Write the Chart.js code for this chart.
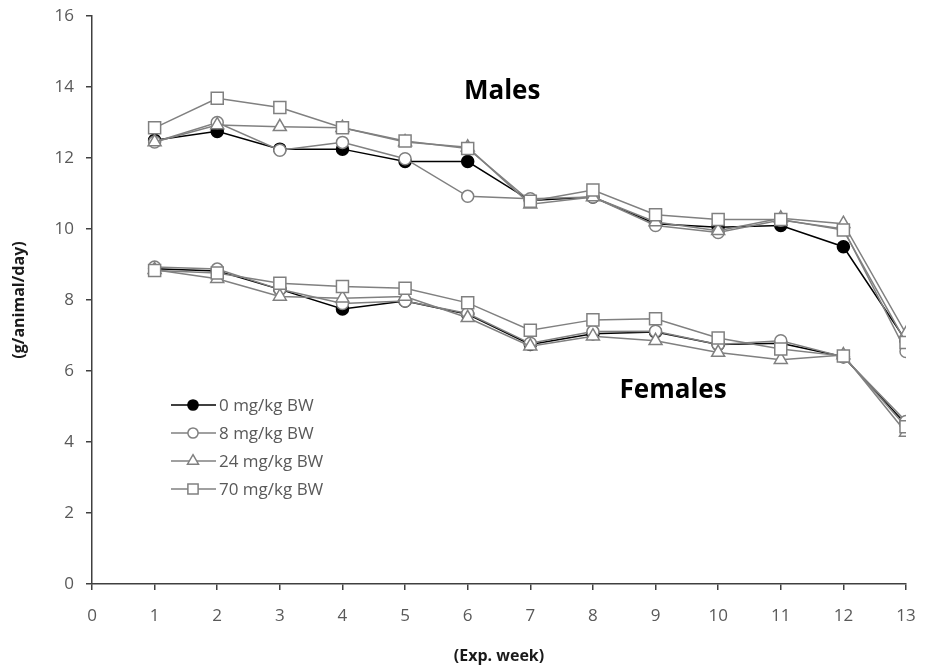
<!DOCTYPE html>
<html>
<head>
<meta charset="utf-8">
<script src="https://cdn.jsdelivr.net/npm/chart.js@4/dist/chart.umd.min.js"></script>
<style>
  html, body { margin: 0; padding: 0; background: #fff; }
  #wrap { width: 925px; height: 670px; }
</style>
</head>
<body>
<div id="wrap"><canvas id="chart"></canvas></div>
<script>
const weeks = [1, 2, 3, 4, 5, 6, 7, 8, 9, 10, 11, 12, 13];
const doses = ['0 mg/kg BW', '8 mg/kg BW', '24 mg/kg BW', '70 mg/kg BW'];

// males, g/animal/day
const males0  = [12.5, 12.75, 12.25, 12.25, 11.9, 11.9, 10.8, 10.9, 10.15, 10.05, 10.1, 9.5, 6.85];
const males8  = [12.45, 13.0, 12.22, 12.44, 11.98, 10.92, 10.85, 10.9, 10.1, 9.9, 10.25, 10.0, 6.55];
const males24 = [12.45, 12.93, 12.88, 12.85, 12.45, 12.3, 10.7, 10.9, 10.2, 9.95, 10.3, 10.15, 7.05];
const males70 = [12.85, 13.68, 13.42, 12.85, 12.48, 12.27, 10.78, 11.1, 10.4, 10.27, 10.27, 9.97, 6.8];

// females, g/animal/day
const females0  = [8.88, 8.82, 8.3, 7.75, 7.97, 7.6, 6.75, 7.05, 7.1, 6.75, 6.78, 6.4, 4.5];
const females8  = [8.93, 8.87, 8.3, 7.9, 7.97, 7.62, 6.78, 7.11, 7.12, 6.75, 6.85, 6.4, 4.58];
const females24 = [8.85, 8.6, 8.1, 8.05, 8.1, 7.5, 6.7, 6.98, 6.85, 6.52, 6.32, 6.45, 4.27];
const females70 = [8.83, 8.76, 8.47, 8.38, 8.33, 7.92, 7.15, 7.44, 7.47, 6.93, 6.62, 6.42, 4.43];

const yTicks = [0, 2, 4, 6, 8, 10, 12, 14, 16];
const xTicks = [0, 1, 2, 3, 4, 5, 6, 7, 8, 9, 10, 11, 12, 13];

const FONT = '"Open Sans", Lato, sans-serif';
const GREY = '#808080';
const LABEL = '#595959';

const styles = [
  { shape: 'circle',   r: 6,   line: '#000', fill: '#000', order: 4 },
  { shape: 'circle',   r: 6,   line: GREY,   fill: '#fff', order: 3 },
  { shape: 'triangle', r: 7.5, line: GREY,   fill: '#fff', order: 2 },
  { shape: 'rect',     r: 8.5, line: GREY,   fill: '#fff', order: 1 }
];

function makeSet(label, values, s) {
  return {
    label: label,
    data: weeks.map((w, i) => ({ x: w, y: values[i] })),
    borderColor: s.line,
    borderWidth: 1.5,
    pointStyle: s.shape,
    pointRadius: s.r,
    pointHoverRadius: s.r,
    pointBackgroundColor: s.fill,
    pointBorderColor: s.line,
    pointBorderWidth: 1.5,
    tension: 0,
    fill: false,
    order: s.order
  };
}

const maleSeries = [males0, males8, males24, males70];
const femaleSeries = [females0, females8, females24, females70];
const datasets = [];
doses.forEach((d, i) => datasets.push(makeSet(d, maleSeries[i], styles[i])));
doses.forEach((d, i) => datasets.push(makeSet(d + ' (F)', femaleSeries[i], styles[i])));

function marker(ctx, shape, x, y, r, fill, stroke) {
  ctx.beginPath();
  if (shape === 'circle') {
    ctx.arc(x, y, r, 0, Math.PI * 2);
  } else if (shape === 'triangle') {
    for (let k = 0; k < 3; k++) {
      const a = k * 2 * Math.PI / 3;
      const px = x + Math.sin(a) * r, py = y - Math.cos(a) * r;
      k ? ctx.lineTo(px, py) : ctx.moveTo(px, py);
    }
    ctx.closePath();
  } else {
    const h = r * Math.SQRT1_2;
    ctx.rect(x - h, y - h, 2 * h, 2 * h);
  }
  ctx.fillStyle = fill;
  ctx.fill();
  ctx.strokeStyle = stroke;
  ctx.lineWidth = 1.5;
  ctx.stroke();
}

// legend box at lower left, built from the male datasets
const legendPlugin = {
  id: 'boxLegend',
  afterDraw(chart) {
    const ctx = chart.ctx;
    ctx.save();
    ctx.font = '17px ' + FONT;
    ctx.textBaseline = 'middle';
    doses.forEach((d, i) => {
      const ds = chart.data.datasets[i];
      const y = 405 + i * 28;
      ctx.beginPath();
      ctx.moveTo(171, y);
      ctx.lineTo(216, y);
      ctx.strokeStyle = ds.borderColor;
      ctx.lineWidth = 1.5;
      ctx.stroke();
      marker(ctx, ds.pointStyle, 193, y, ds.pointRadius * 0.85, ds.pointBackgroundColor, ds.pointBorderColor);
      ctx.fillStyle = LABEL;
      ctx.fillText(d, 219, y + 1);
    });
    ctx.restore();
  }
};

// group labels placed in data coordinates
const groupLabels = [
  { text: 'Males', x: 6.55, y: 13.88 },
  { text: 'Females', x: 9.28, y: 5.44 }
];
const groupPlugin = {
  id: 'groupLabels',
  afterDatasetsDraw(chart) {
    const ctx = chart.ctx;
    const xs = chart.scales.x, ys = chart.scales.y;
    ctx.save();
    ctx.font = 'bold 26px ' + FONT;
    ctx.fillStyle = '#000';
    ctx.textAlign = 'center';
    ctx.textBaseline = 'middle';
    groupLabels.forEach(g => ctx.fillText(g.text, xs.getPixelForValue(g.x), ys.getPixelForValue(g.y)));
    ctx.restore();
  }
};

new Chart(document.getElementById('chart'), {
  type: 'line',
  data: { datasets: datasets },
  options: {
    responsive: true,
    maintainAspectRatio: false,
    animation: false,
    layout: { padding: { top: 16, right: 19, left: 0, bottom: 0 } },
    plugins: {
      legend: { display: false },
      tooltip: { enabled: false }
    },
    scales: {
      x: {
        type: 'linear',
        min: 0,
        max: 13,
        afterBuildTicks: s => { s.ticks = xTicks.map(v => ({ value: v })); },
        afterFit: s => { s.height = 86; s.paddingLeft = 0; s.paddingRight = 0; },
        border: { display: true, color: '#404040', width: 1.5 },
        grid: { drawOnChartArea: false, drawTicks: true, tickLength: 6, color: '#404040', lineWidth: 1.5 },
        ticks: { color: LABEL, font: { family: FONT, size: 17 }, padding: 16 },
        title: { display: true, text: '(Exp. week)', color: '#1a1a1a', font: { family: FONT, size: 16, weight: 'bold' }, padding: { top: 14, bottom: 4 } }
      },
      y: {
        min: 0,
        max: 16,
        afterBuildTicks: s => { s.ticks = yTicks.map(v => ({ value: v })); },
        afterFit: s => { s.width = 92; s.paddingTop = 0; s.paddingBottom = 0; },
        border: { display: true, color: '#404040', width: 1.5 },
        grid: { drawOnChartArea: false, drawTicks: true, tickLength: 6, color: '#404040', lineWidth: 1.5 },
        ticks: { color: LABEL, font: { family: FONT, size: 17 }, padding: 12 },
        title: { display: true, text: '(g/animal/day)', color: '#1a1a1a', font: { family: FONT, size: 16, weight: 'bold' }, padding: { top: 10, bottom: 0 } }
      }
    }
  },
  plugins: [groupPlugin, legendPlugin]
});
</script>
</body>
</html>
